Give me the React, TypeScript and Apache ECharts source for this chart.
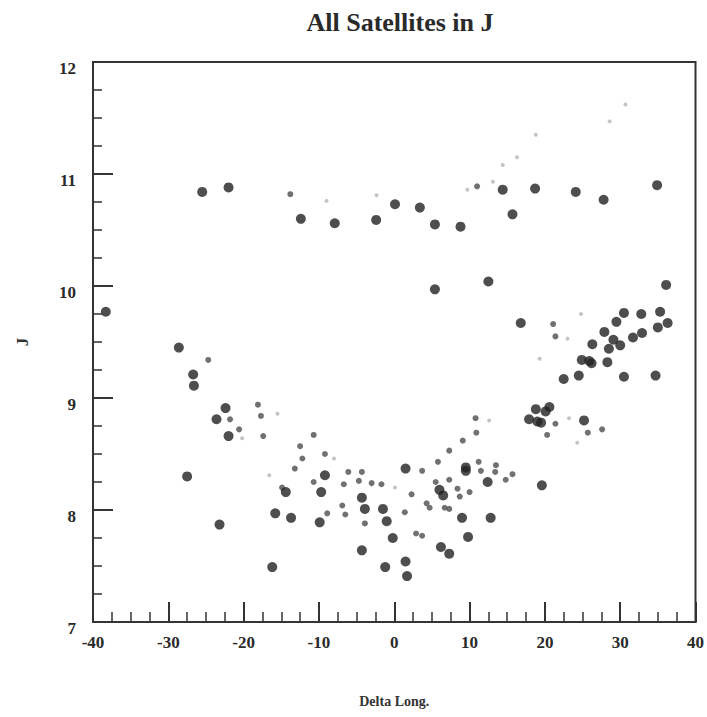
import React, { useEffect, useRef } from "react";
import * as echarts from "echarts";

const titleText = "All Satellites in J";
const xName = "Delta Long.";
const yName = "J";

// Large dark dots [Delta Long., J]
const largeDots: number[][] = [
  [-25.5, 10.84], [-22.0, 10.88], [-12.4, 10.6], [-7.9, 10.56], [-2.4, 10.59], [0.1, 10.73],
  [3.4, 10.7], [5.4, 10.55], [8.8, 10.53], [14.4, 10.86], [18.7, 10.87], [24.1, 10.84],
  [27.8, 10.77], [34.9, 10.9], [15.7, 10.64],
  [5.4, 9.97], [12.5, 10.04], [36.1, 10.01], [-38.3, 9.77], [-28.6, 9.45], [-26.7, 9.21], [-26.6, 9.11],
  [16.8, 9.67], [30.5, 9.76], [32.8, 9.75], [35.3, 9.77], [36.3, 9.67], [35.0, 9.63], [29.5, 9.68],
  [27.9, 9.59], [26.3, 9.48], [29.1, 9.52], [28.5, 9.44], [30.0, 9.47], [31.7, 9.54], [32.9, 9.58],
  [24.9, 9.34], [25.9, 9.33], [26.2, 9.31], [28.3, 9.32], [22.5, 9.17], [24.5, 9.2], [30.5, 9.19], [34.7, 9.2],
  [18.8, 8.9], [20.6, 8.92], [20.1, 8.88], [17.9, 8.81], [19.0, 8.79], [19.5, 8.78], [25.2, 8.8],
  [1.5, 8.37], [9.5, 8.38], [9.5, 8.35], [12.4, 8.25], [19.6, 8.22], [6.0, 8.18], [6.5, 8.13],
  [9.0, 7.93], [12.8, 7.93], [-0.2, 7.75], [9.8, 7.76], [6.2, 7.67], [7.3, 7.61], [1.5, 7.54], [1.7, 7.41],
  [-22.4, 8.91], [-23.6, 8.81], [-22.0, 8.66], [-27.5, 8.3], [-23.2, 7.87], [-14.4, 8.16], [-15.8, 7.97],
  [-13.7, 7.93], [-16.2, 7.49], [-9.2, 8.31], [-9.7, 8.16], [-9.9, 7.89], [-4.3, 8.11], [-3.9, 8.01],
  [-1.5, 8.01], [-1.0, 7.9], [-4.3, 7.64], [-1.2, 7.49],
];

// Smaller grey dots
const smallDots: number[][] = [
  [-13.8, 10.82], [11.0, 10.89], [-24.7, 9.34], [21.1, 9.66], [21.4, 9.55], [21.4, 8.77], [20.3, 8.67],
  [25.7, 8.69], [27.6, 8.72], [10.8, 8.82], [10.9, 8.69], [9.1, 8.62], [7.3, 8.53], [5.8, 8.43],
  [3.7, 8.35], [11.2, 8.43], [11.5, 8.35], [13.5, 8.4], [13.4, 8.34], [15.7, 8.32], [14.8, 8.27],
  [7.3, 8.27], [5.5, 8.25], [8.4, 8.19], [8.7, 8.12], [10.0, 8.16], [2.3, 8.14], [4.3, 8.06],
  [4.7, 8.02], [6.7, 8.02], [7.3, 8.01], [1.4, 7.98], [2.9, 7.79], [3.7, 7.77],
  [-21.8, 8.81], [-20.6, 8.72], [-18.1, 8.94], [-17.7, 8.84], [-17.4, 8.66], [-14.9, 8.2],
  [-10.7, 8.67], [-12.5, 8.57], [-12.2, 8.46], [-9.2, 8.5], [-13.2, 8.37], [-10.7, 8.25], [-8.9, 7.97],
  [-6.1, 8.34], [-4.3, 8.34], [-6.7, 8.23], [-4.7, 8.26], [-3.0, 8.24], [-1.7, 8.23], [-3.9, 7.88],
  [-6.9, 8.04], [-6.5, 7.96],
];

// Faint light dots
const faintDots: number[][] = [
  [-2.35, 10.81], [-9.0, 10.76], [30.7, 11.62], [28.6, 11.47], [18.8, 11.35], [16.3, 11.15],
  [14.4, 11.08], [13.1, 10.93], [9.7, 10.86], [24.8, 9.75], [23.0, 9.53], [19.3, 9.35],
  [23.2, 8.82], [24.3, 8.6], [12.6, 8.8], [-20.2, 8.64], [-15.5, 8.86], [-16.6, 8.31],
  [-8.0, 8.46], [0.1, 8.2],
];

const FONT = "'Liberation Serif', 'DejaVu Serif', serif";

export default function App() {
  const ref = useRef<HTMLDivElement>(null);
  useEffect(() => {
    if (!ref.current) return;
    const chart = echarts.init(ref.current, undefined, { renderer: "svg" });
    const axisLine = { show: true, onZero: false, lineStyle: { color: "#333", width: 2 } };
    chart.setOption({
      animation: false,
      backgroundColor: "#ffffff",
      title: {
        text: titleText,
        left: 395,
        top: 4,
        textAlign: "center",
        textStyle: { fontFamily: FONT, fontWeight: "bold", fontSize: 26, color: "#2a2a2a" },
      },
      grid: {
        left: 93,
        right: 10,
        top: 62,
        bottom: 95,
        show: true,
        borderColor: "#333",
        borderWidth: 2,
        backgroundColor: "#ffffff",
      },
      xAxis: {
        type: "value",
        min: -40,
        max: 40,
        interval: 10,
        name: xName,
        nameLocation: "middle",
        nameGap: 72,
        nameTextStyle: { fontFamily: FONT, fontWeight: "bold", fontSize: 14, color: "#333" },
        axisLine,
        axisTick: { show: true, inside: true, length: 20, lineStyle: { color: "#333", width: 2 } },
        minorTick: { show: true, splitNumber: 4, length: 10, lineStyle: { color: "#333", width: 1.5 } },
        splitLine: { show: false },
        axisLabel: { fontFamily: FONT, fontWeight: "bold", fontSize: 17, color: "#2a2a2a", margin: 12 },
      },
      yAxis: {
        type: "value",
        min: 7,
        max: 12,
        interval: 1,
        name: yName,
        nameLocation: "middle",
        nameGap: 62,
        nameRotate: 90,
        nameTextStyle: { fontFamily: FONT, fontWeight: "bold", fontSize: 17, color: "#333" },
        axisLine,
        axisTick: { show: true, inside: true, length: 20, lineStyle: { color: "#333", width: 2 } },
        minorTick: { show: true, splitNumber: 4, length: 9, lineStyle: { color: "#333", width: 1.5 } },
        splitLine: { show: false },
        axisLabel: {
          fontFamily: FONT,
          fontWeight: "bold",
          fontSize: 17,
          color: "#2a2a2a",
          margin: 17,
          verticalAlign: "top",
          lineHeight: 12,
        },
      },
      series: [
        {
          type: "scatter",
          data: faintDots,
          symbolSize: 4,
          itemStyle: { color: "#b5b5b5" },
        },
        {
          type: "scatter",
          data: smallDots,
          symbolSize: 6,
          itemStyle: { color: "#4d4d4d" },
        },
        {
          type: "scatter",
          data: largeDots,
          symbolSize: 10,
          itemStyle: { color: "#222222" },
        },
      ],
    });
    return () => chart.dispose();
  }, []);
  return <div ref={ref} style={{ width: 707, height: 717, position: "absolute", left: 0, top: 0 }} />;
}
